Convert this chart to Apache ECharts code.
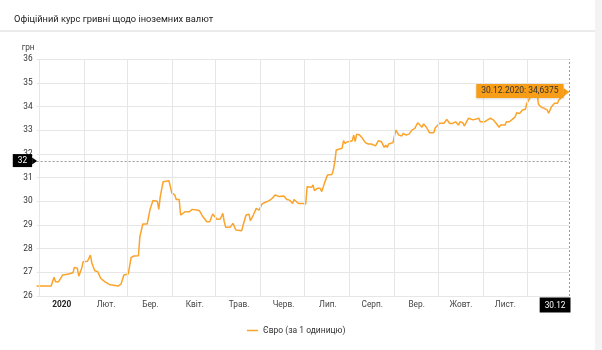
<!DOCTYPE html>
<html><head><meta charset="utf-8">
<script src="https://cdn.jsdelivr.net/npm/echarts@6/dist/echarts.min.js"></script>
<style>html,body{margin:0;padding:0;background:#fff}#c{width:602px;height:350px}</style>
</head><body><div id="c"></div>
<script>
const chartTitle = 'Офіційний курс гривні щодо іноземних валют';
const seriesName = 'Євро (за 1 одиницю)';
const unitLabel = 'грн';
const dates = [
'2019-12-30','2020-01-09','2020-01-11','2020-01-12','2020-01-14','2020-01-17','2020-01-21','2020-01-24','2020-01-25','2020-01-27',
'2020-01-28','2020-01-30','2020-01-31','2020-02-03','2020-02-05','2020-02-06','2020-02-08','2020-02-10','2020-02-12','2020-02-15',
'2020-02-18','2020-02-20','2020-02-24','2020-02-26','2020-02-28','2020-03-02','2020-03-04','2020-03-06','2020-03-09','2020-03-10',
'2020-03-12','2020-03-15','2020-03-16','2020-03-17','2020-03-19','2020-03-22','2020-03-23','2020-03-24','2020-03-25','2020-03-26',
'2020-03-30','2020-03-31','2020-04-01','2020-04-03','2020-04-04','2020-04-06','2020-04-07','2020-04-10','2020-04-13','2020-04-14',
'2020-04-15','2020-04-18','2020-04-20','2020-04-22','2020-04-23','2020-04-25','2020-04-27','2020-04-29','2020-04-30','2020-05-02',
'2020-05-04','2020-05-05','2020-05-06','2020-05-07','2020-05-08','2020-05-11','2020-05-13','2020-05-14','2020-05-15','2020-05-19',
'2020-05-20','2020-05-22','2020-05-24','2020-05-25','2020-05-27','2020-05-29','2020-05-31','2020-06-02','2020-06-05','2020-06-07',
'2020-06-09','2020-06-11','2020-06-12','2020-06-14','2020-06-17','2020-06-19','2020-06-21','2020-06-23','2020-06-24','2020-06-27',
'2020-06-30','2020-07-02','2020-07-03','2020-07-04','2020-07-06','2020-07-07','2020-07-08','2020-07-10','2020-07-12','2020-07-13',
'2020-07-15','2020-07-17','2020-07-20','2020-07-21','2020-07-22','2020-07-23','2020-07-24','2020-07-27','2020-07-28','2020-07-29',
'2020-07-31','2020-08-03','2020-08-04','2020-08-05','2020-08-06','2020-08-08','2020-08-10','2020-08-12','2020-08-14','2020-08-16',
'2020-08-19','2020-08-21','2020-08-23','2020-08-24','2020-08-25','2020-08-26','2020-08-27','2020-08-28','2020-08-31','2020-09-01',
'2020-09-02','2020-09-04','2020-09-06','2020-09-07','2020-09-09','2020-09-11','2020-09-13','2020-09-15','2020-09-17','2020-09-18',
'2020-09-20','2020-09-21','2020-09-23','2020-09-25','2020-09-28','2020-09-29','2020-10-02','2020-10-03','2020-10-05','2020-10-07',
'2020-10-09','2020-10-11','2020-10-13','2020-10-15','2020-10-16','2020-10-18','2020-10-19','2020-10-21','2020-10-22','2020-10-25',
'2020-10-26','2020-10-29','2020-10-30','2020-11-02','2020-11-04','2020-11-06','2020-11-08','2020-11-10','2020-11-12','2020-11-13',
'2020-11-16','2020-11-17','2020-11-19','2020-11-21','2020-11-23','2020-11-24','2020-11-26','2020-11-28','2020-11-30','2020-12-01',
'2020-12-03','2020-12-05','2020-12-08','2020-12-09','2020-12-11','2020-12-13','2020-12-15','2020-12-16','2020-12-18','2020-12-20',
'2020-12-22','2020-12-23','2020-12-25','2020-12-28','2020-12-30'
];
const values = [
26.42,26.42,26.79,26.60,26.60,26.89,26.93,26.98,27.21,27.17,
26.84,27.17,27.45,27.47,27.73,27.38,27.07,27.03,26.75,26.60,
26.49,26.46,26.42,26.50,26.89,26.93,27.63,27.69,27.70,28.51,
29.04,29.04,29.00,29.66,30.03,30.00,29.66,30.20,30.13,30.83,
30.87,30.93,30.34,30.27,30.08,30.08,29.42,29.56,29.56,29.52,
29.66,29.63,29.60,29.38,29.38,29.14,29.14,29.46,29.42,29.24,
29.24,29.34,29.49,29.14,28.90,28.90,29.07,29.05,28.79,28.76,
29.00,29.42,29.46,29.18,29.42,29.70,29.63,29.89,29.98,30.03,
30.13,30.27,30.20,30.20,30.22,30.08,30.05,29.91,30.08,29.91,
29.91,29.89,30.62,30.65,30.59,30.69,30.45,30.55,30.55,30.41,
30.79,31.11,31.13,31.32,31.67,32.17,32.24,32.24,32.56,32.45,
32.52,32.56,32.80,32.52,32.84,32.80,32.66,32.48,32.42,32.42,
32.34,32.56,32.52,32.48,32.28,32.37,32.28,32.42,32.48,32.76,
33.01,32.80,32.76,32.87,32.80,32.84,33.01,33.08,33.32,33.32,
33.13,33.27,33.13,32.90,32.90,33.10,33.30,33.29,33.30,33.46,
33.29,33.29,33.36,33.22,33.36,33.32,33.18,33.41,33.51,33.44,
33.51,33.51,33.36,33.36,33.44,33.51,33.44,33.29,33.13,33.22,
33.22,33.36,33.36,33.46,33.57,33.74,33.71,33.86,33.89,34.14,
34.35,34.70,34.60,34.10,33.97,33.93,33.86,33.72,34.00,34.14,
34.14,34.28,34.40,34.55,34.6375
];
const monthLabels = ['2020','Лют.','Бер.','Квіт.','Трав.','Черв.','Лип.','Серп.','Вер.','Жовт.','Лист.',''];
const monthStarts = ['2020-01-01','2020-02-01','2020-03-01','2020-04-01','2020-05-01','2020-06-01','2020-07-01','2020-08-01','2020-09-01','2020-10-01','2020-11-01','2020-12-01'];
const xMin = '2019-12-30', xMax = '2020-12-30';
const yMin = 26, yMax = 36, yStep = 1;
const crossValue = 31.70, crossLabel = '32';
const dateLabel = '30.12';

const lastDate = dates[dates.length - 1];
const lastValue = values[values.length - 1];
const tipText = '30.12.2020: ' + lastValue.toFixed(4).replace('.', ',');
const pts = dates.map((d, i) => [d, values[i]]);

const LINE = '#fba32a', ORANGE = '#f89d17', FONT = 'Roboto';
const chart = echarts.init(document.getElementById('c'), null, {renderer: 'canvas'});
chart.setOption({
  animation: false,
  textStyle: {fontFamily: FONT},
  title: {text: chartTitle, left: 9, top: 10, textStyle: {fontSize: 9.3, fontWeight: 'normal', color: '#222', fontFamily: FONT}},
  graphic: [
    {type: 'rect', shape: {x: 0, y: 30, width: 595, height: 2}, style: {fill: '#ebebeb'}, silent: true},
    {type: 'rect', shape: {x: 595, y: 0, width: 7, height: 350}, style: {fill: '#f3f3f3'}, silent: true}
  ],
  legend: {data: [{name: seriesName, icon: 'rect'}], left: 242, top: 321, itemWidth: 11, itemHeight: 1.5, itemGap: 4,
    textStyle: {fontSize: 8.5, color: '#333', fontFamily: FONT}},
  grid: [
    {left: 36.6, right: 33, top: 59.3, bottom: 54, containLabel: false},
    {left: 39.5, right: 30.1, top: 59.3, bottom: 54, containLabel: false}
  ],
  xAxis: [
    {type: 'time', gridIndex: 0, min: xMin, max: xMax, axisLabel: {show: false}, axisTick: {show: false},
      axisLine: {show: false}, splitLine: {show: false}},
    {type: 'category', gridIndex: 1, data: monthLabels, boundaryGap: true, position: 'bottom',
      axisLine: {show: false}, axisTick: {show: false}, splitLine: {show: false},
      axisLabel: {margin: 5, fontSize: 8.3, color: '#444', interval: 0, fontFamily: FONT,
        formatter: (v, i) => i === 0 ? '{b|' + v + '}' : v,
        rich: {b: {fontWeight: 'bold', color: '#222', fontSize: 8.3, fontFamily: FONT}}}}
  ],
  yAxis: [
    {type: 'value', gridIndex: 0, min: yMin, max: yMax, interval: yStep,
      name: unitLabel, nameLocation: 'end', nameGap: 7,
      nameTextStyle: {fontSize: 8.3, color: '#444', align: 'right', padding: [0, 2, 0, 0], fontFamily: FONT},
      axisLine: {show: false}, axisTick: {show: false},
      axisLabel: {fontSize: 8.3, color: '#333', margin: 4, fontFamily: FONT},
      splitLine: {lineStyle: {color: '#e6e6e6', width: 1}}},
    {type: 'value', gridIndex: 1, show: false, min: yMin, max: yMax}
  ],
  series: [
    {
      name: 'grid', type: 'line', xAxisIndex: 0, yAxisIndex: 0, data: pts, symbol: 'none', silent: true, z: 1,
      lineStyle: {opacity: 0}, tooltip: {show: false},
      markLine: {silent: true, symbol: ['none', 'none'], label: {show: false},
        lineStyle: {color: '#e6e6e6', width: 1, type: 'solid'},
        data: monthStarts.map(m => ({xAxis: m}))}
    },
    {
      name: seriesName, type: 'line', xAxisIndex: 0, yAxisIndex: 0, data: pts, symbol: 'none', z: 3,
      lineStyle: {color: LINE, width: 1.5}, itemStyle: {color: LINE},
      markLine: {silent: true, symbol: ['none', 'none'], label: {show: false},
        lineStyle: {color: '#999', width: 1, type: [2, 2]},
        data: [{yAxis: crossValue}, {xAxis: lastDate}]},
      markPoint: {silent: true, data: [
        {coord: [lastDate, lastValue], symbol: 'circle', symbolSize: 1, itemStyle: {color: 'rgba(0,0,0,0)'},
          label: {show: true, formatter: tipText, position: [-5, 0], align: 'right', verticalAlign: 'middle',
            backgroundColor: ORANGE, color: '#333', fontSize: 8.5, padding: [3, 5, 2, 5], fontFamily: FONT,
            shadowColor: 'rgba(0,0,0,0.15)', shadowBlur: 2, shadowOffsetY: 1}},
        {coord: [lastDate, lastValue], symbol: 'triangle', symbolSize: [7, 5], symbolRotate: -90, symbolOffset: [-3, 0],
          itemStyle: {color: ORANGE}, label: {show: false}},
        {coord: [xMin, crossValue], symbol: 'circle', symbolSize: 1, itemStyle: {color: 'rgba(0,0,0,0)'},
          label: {show: true, formatter: crossLabel, position: [-4, 0], align: 'right', verticalAlign: 'middle',
            backgroundColor: '#000', color: '#fff', fontSize: 8.3, padding: [3, 5, 2, 5], fontFamily: FONT}},
        {coord: [xMin, crossValue], symbol: 'triangle', symbolSize: [7, 5], symbolRotate: -90, symbolOffset: [-2, 0],
          itemStyle: {color: '#000'}, label: {show: false}},
        {coord: [lastDate, yMin], symbol: 'circle', symbolSize: 1, itemStyle: {color: 'rgba(0,0,0,0)'},
          label: {show: true, formatter: dateLabel, position: [2, 2], align: 'right', verticalAlign: 'top',
            backgroundColor: '#000', color: '#fff', fontSize: 8.3, padding: [4, 5, 3, 5], fontFamily: FONT}}
      ]}
    }
  ]
});
</script></body></html>
